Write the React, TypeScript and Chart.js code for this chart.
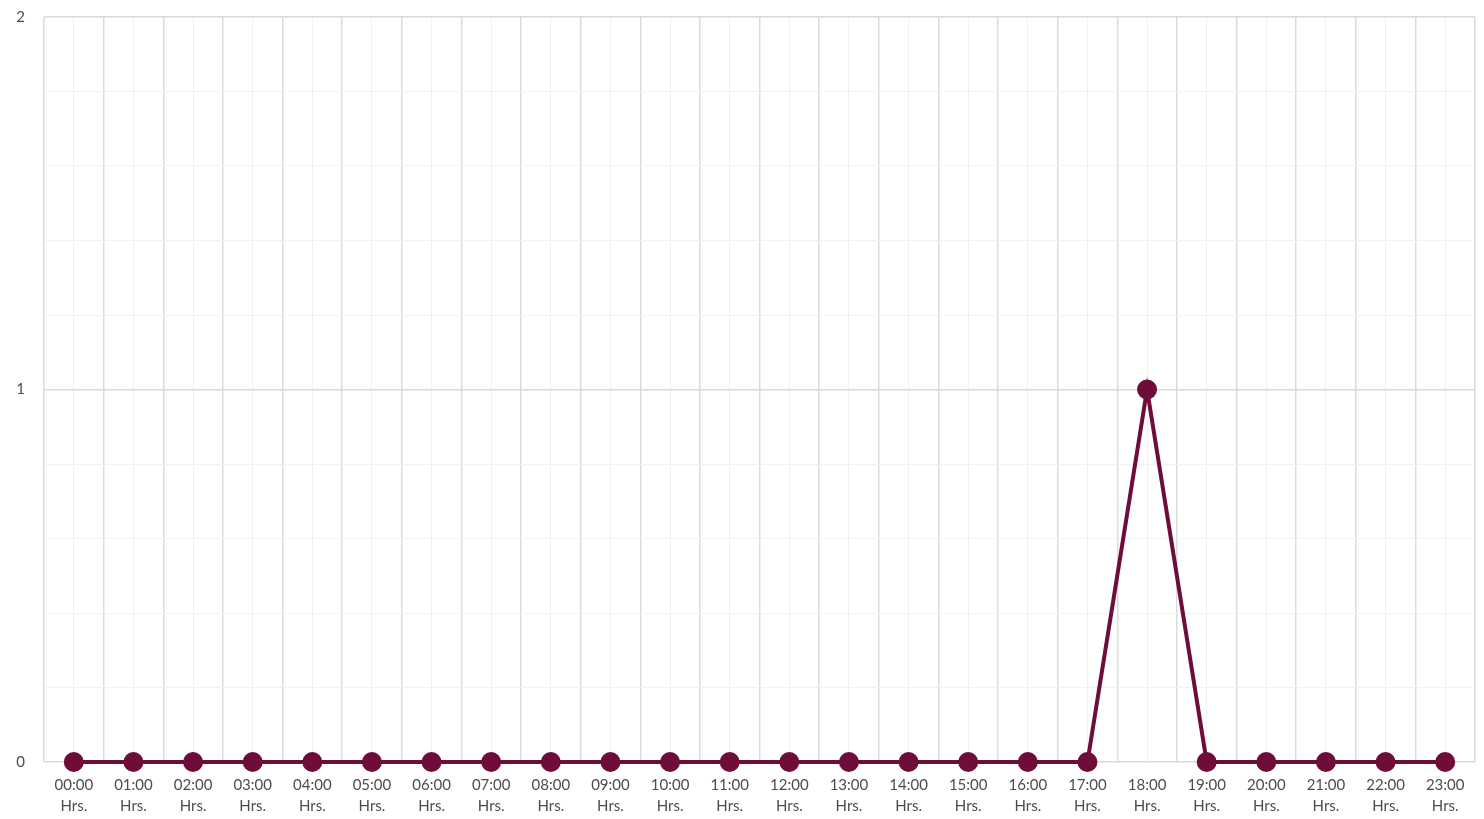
import React, { useEffect, useRef } from "react";
import { Chart, registerables } from "chart.js";

Chart.register(...registerables);

const hours: string[][] = [
  ["00:00", "Hrs."], ["01:00", "Hrs."], ["02:00", "Hrs."], ["03:00", "Hrs."],
  ["04:00", "Hrs."], ["05:00", "Hrs."], ["06:00", "Hrs."], ["07:00", "Hrs."],
  ["08:00", "Hrs."], ["09:00", "Hrs."], ["10:00", "Hrs."], ["11:00", "Hrs."],
  ["12:00", "Hrs."], ["13:00", "Hrs."], ["14:00", "Hrs."], ["15:00", "Hrs."],
  ["16:00", "Hrs."], ["17:00", "Hrs."], ["18:00", "Hrs."], ["19:00", "Hrs."],
  ["20:00", "Hrs."], ["21:00", "Hrs."], ["22:00", "Hrs."], ["23:00", "Hrs."],
];
const counts: number[] = [0, 0, 0, 0, 0, 0, 0, 0, 0, 0, 0, 0, 0, 0, 0, 0, 0, 0, 1, 0, 0, 0, 0, 0];
const yMin = 0;
const yMax = 2;
const yStep = 0.2;

const LINE = "#6e0c3a";
const FONT = "Lato, 'Open Sans', sans-serif";

const isMajor = (v: number) => Number.isInteger(Math.round(v * 1000) / 1000);

export default function App() {
  const ref = useRef<HTMLCanvasElement | null>(null);
  useEffect(() => {
    document.body.style.margin = "0";
    if (!ref.current) return;
    const chart = new Chart(ref.current, {
      type: "line",
      data: {
        labels: hours,
        datasets: [
          {
            data: counts,
            borderColor: LINE,
            backgroundColor: LINE,
            borderWidth: 4,
            pointRadius: 8,
            pointHoverRadius: 8,
            pointBackgroundColor: LINE,
            pointBorderColor: LINE,
            tension: 0,
            clip: false,
            xAxisID: "x",
          },
        ],
      },
      options: {
        animation: false,
        responsive: false,
        maintainAspectRatio: false,
        layout: { autoPadding: false, padding: { top: 0, right: 9, left: 0, bottom: 0 } },
        plugins: { legend: { display: false }, tooltip: { enabled: false } },
        scales: {
          x: {
            type: "category",
            offset: true,
            position: "bottom",
            grid: { offset: true, color: "#dcdcdc", lineWidth: 1.5, drawTicks: false },
            border: { display: false },
            ticks: {
              color: "#4d4d4d",
              font: { family: FONT, size: 15, lineHeight: 1.4 },
              padding: 13,
              maxRotation: 0,
              autoSkip: false,
            },
            afterFit: (s: any) => {
              s.height = 57;
              s.paddingLeft = 0;
              s.paddingRight = 0;
            },
          },
          x2: {
            type: "category",
            labels: hours.map((h) => h.join(" ")),
            offset: true,
            position: "bottom",
            grid: { offset: false, color: "#f1f1f1", lineWidth: 1, drawTicks: false },
            border: { display: false },
            ticks: { display: false },
            afterFit: (s: any) => {
              s.height = 0;
              s.paddingLeft = 0;
              s.paddingRight = 0;
            },
          },
          y: {
            min: yMin,
            max: yMax,
            grid: {
              color: (ctx: any) => (isMajor(ctx.tick.value) ? "#d9d9d9" : "#f1f1f1"),
              lineWidth: (ctx: any) => (isMajor(ctx.tick.value) ? 1.5 : 1),
              drawTicks: false,
            },
            border: { display: false },
            ticks: {
              stepSize: yStep,
              color: "#4d4d4d",
              font: { family: FONT, size: 15 },
              padding: 19,
              callback: (v: any) => {
                const n = Math.round(Number(v) * 1000) / 1000;
                return Number.isInteger(n) ? String(n) : "";
              },
            },
            afterFit: (s: any) => {
              s.width = 44;
              s.paddingTop = 17;
              s.paddingBottom = 0;
            },
          },
        },
      },
    });
    return () => chart.destroy();
  }, []);
  return (
    <div style={{ width: 1484, height: 819, background: "#fff" }}>
      <canvas ref={ref} width={1484} height={819} style={{ display: "block" }} />
    </div>
  );
}
